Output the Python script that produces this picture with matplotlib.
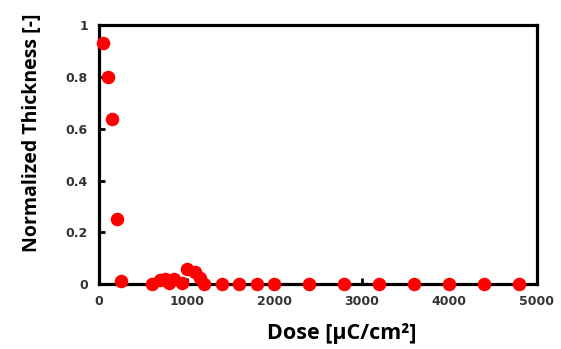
#!/usr/bin/env python3
''' normalized thickness vs. exposure dose '''
import matplotlib
matplotlib.use('Agg')
import matplotlib.pyplot as plt

dose = [50, 100, 150, 200, 250, 600, 700, 750, 800, 860, 950, 1000,
        1100, 1150, 1200, 1400, 1600, 1800, 2000, 2400, 2800, 3200,
        3600, 4000, 4400, 4800]
thickness = [0.93, 0.80, 0.637, 0.25, 0.01, 0.0, 0.015, 0.02, 0.005,
             0.02, 0.005, 0.057, 0.045, 0.025, 0.0, 0.0, 0.0, 0.0, 0.0,
             0.0, 0.0, 0.0, 0.0, 0.0, 0.0, 0.0]
xticks = [0, 1000, 2000, 3000, 4000, 5000]
yticks = [0, 0.2, 0.4, 0.6, 0.8, 1.0]
ytick_labels = ['0', '0.2', '0.4', '0.6', '0.8', '1']


def plot():
    fig = plt.figure(figsize=(5.61, 3.49), dpi=100)
    ax = fig.add_axes([0.1765, 0.186, 0.7805, 0.742])
    ax.scatter(dose, thickness, s=95, color='#ff0000', zorder=3,
               clip_on=False, linewidths=0)
    ax.set_xlim(0, 5000)
    ax.set_ylim(0, 1)
    ax.set_xticks(xticks)
    ax.set_yticks(yticks)
    ax.set_yticklabels(ytick_labels)
    for side in ax.spines.values():
        side.set_linewidth(2.3)
        side.set_color('black')
    ax.tick_params(direction='in', length=4, width=2, pad=8,
                   labelsize=9, labelcolor='#333333')
    for lab in ax.get_xticklabels() + ax.get_yticklabels():
        lab.set_fontweight('bold')
        lab.set_family('DejaVu Sans')
    ax.set_xlabel('Dose [µC/cm²]', family='Open Sans', fontweight='bold',
                  fontsize=15.5, labelpad=11)
    ax.xaxis.label.set_x(0.555)
    ax.set_ylabel('Normalized Thickness [-]', family='Open Sans',
                  fontweight='bold', fontsize=14)
    ax.yaxis.set_label_coords(-0.130, 0.583)
    fig.savefig('out.png', dpi=100)


plot()
